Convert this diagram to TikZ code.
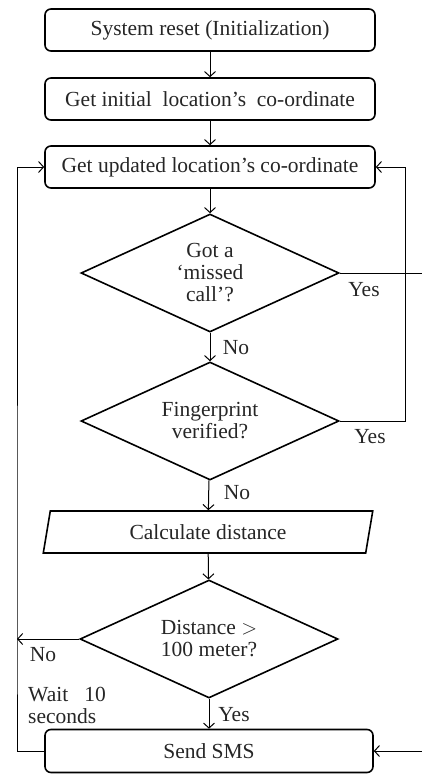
\documentclass[tikz,border=0pt]{standalone}
\usepackage{fontspec}
\setmainfont{Liberation Serif}
\usetikzlibrary{arrows,arrows.meta}
\usetikzlibrary{shapes.geometric,calc}

\tikzset{
	process/.style={draw, line width=1.6pt, rounded corners=6pt, minimum width=330pt, minimum height=42pt, inner sep=2pt},
	decision/.style={draw, diamond, aspect=2, line width=1.6pt, minimum width=258pt, minimum height=118pt, inner sep=0pt, align=center},
	calcbox/.style={draw, trapezium, trapezium left angle=77, trapezium right angle=103, trapezium stretches=true, line width=1.6pt, minimum width=330pt, minimum height=42pt, inner sep=0pt},
	lbl/.style={inner sep=0pt},
	flow/.style={-{Straight Barb[length=5pt,width=11pt]}, line width=1pt}
}

\begin{document}
\begin{tikzpicture}[x=1pt, y=1pt, font=\fontsize{21.5}{22}\selectfont, text=black!85]
	\useasboundingbox (0,0) rectangle (422,-774);
	%\draw[help lines, step=20] (0,0) grid (422,-774);
	\node[process] (reset) at (210,-30) {System reset (Initialization)};
	\node[process] (init) at (210,-99) {Get initial\ \ location's\ \ co-ordinate};
	\node[process] (upd) at (210,-167) {Get updated location's co-ordinate};
	\node[decision] (missed) at (210,-273) {Got a\\`missed\\call'?};
	\node[decision] (finger) at (210,-421) {Fingerprint\\verified?};
	\node[calcbox] (calc) at (208,-532) {Calculate distance};
	\node[decision] (dist) at (209,-639) {Distance $>$\\100 meter?};
	\node[process, minimum width=328pt, minimum height=43pt] (sms) at (209,-751) {Send SMS};

	\node[lbl] (yesA) at (364,-290) {Yes};
	\node[lbl] (yesB) at (370,-437) {Yes};
	\node[lbl] (noA) at (236,-348) {No};
	\node[lbl] (noB) at (237,-493) {No};
	\node[lbl] (noC) at (43,-655) {No};
	\node[lbl, anchor=west, align=left] (wait) at (28,-705) {Wait\ \ \ 10\\seconds};
	\node[lbl] (yesC) at (234,-715) {Yes};

	\coordinate (lft) at (17,-639);
	\coordinate (rgt) at (405,-421);
	\coordinate (edgeA) at (422,-273);
	\coordinate (edgeB) at (422,-751);

	\draw[flow] (reset) -- (init);
	\draw[flow] (init) -- (upd);
	\draw[flow] (upd) -- (missed);
	\draw[flow] (missed) -- (finger);
	\draw[flow] (finger) -- (calc);
	\draw[flow] (calc) -- (dist);
	\draw[flow] (dist) -- (sms);

	\draw[flow] (finger.east) -- (rgt) |- (upd.east);
	\draw[line width=1pt] (missed.east) -- (edgeA);
	\draw[flow] (edgeB) -- (sms.east);
	\draw[flow] (dist.west) -- (lft);
	\draw[flow] (sms.west) -| (lft) |- (upd.west);
\end{tikzpicture}
\end{document}
